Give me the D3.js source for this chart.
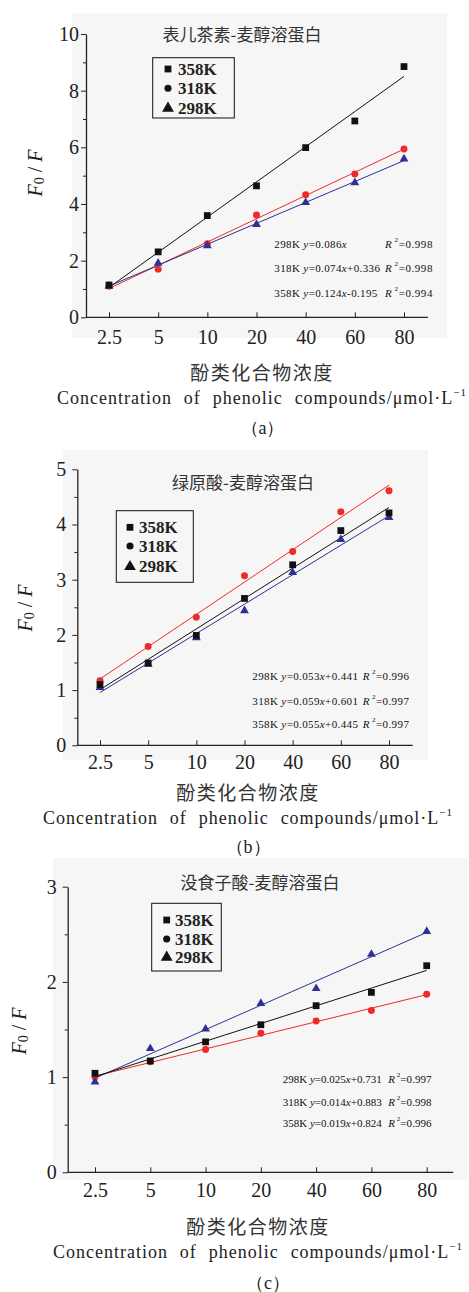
<!DOCTYPE html>
<html>
<head>
<meta charset="utf-8">
<script src="https://cdn.jsdelivr.net/npm/d3@7"></script>
<style>
  body { margin: 0; background: #fff; }
  svg { display: block; }
</style>
</head>
<body>
<script>
"use strict";

// ---- data ----
var categories = ["2.5", "5", "10", "20", "40", "60", "80"];
var legendNames = ["358K", "318K", "298K"];

// (a) epicatechin
var catechin358 = [1.14, 2.31, 3.59, 4.64, 5.99, 6.93, 8.85];
var catechin318 = [1.10, 1.70, 2.60, 3.61, 4.33, 5.06, 5.94];
var catechin298 = [1.10, 1.91, 2.53, 3.28, 4.05, 4.75, 5.59];
var catechinEqLeft = ["298K y=0.086x", "318K y=0.074x+0.336", "358K y=0.124x-0.195"];
var catechinEqR2 = ["0.998", "0.998", "0.994"];

// (b) chlorogenic acid
var chloro358 = [1.10, 1.49, 1.99, 2.66, 3.27, 3.89, 4.21];
var chloro318 = [1.17, 1.79, 2.32, 3.07, 3.51, 4.23, 4.61];
var chloro298 = [1.05, 1.47, 1.95, 2.44, 3.13, 3.73, 4.13];
var chloroEqLeft = ["298K y=0.053x+0.441", "318K y=0.059x+0.601", "358K y=0.055x+0.445"];
var chloroEqR2 = ["0.996", "0.997", "0.997"];

// (c) gallic acid
var gallic358 = [1.04, 1.17, 1.37, 1.55, 1.75, 1.89, 2.17];
var gallic318 = [1.00, 1.16, 1.29, 1.46, 1.59, 1.70, 1.87];
var gallic298 = [0.95, 1.30, 1.505, 1.775, 1.93, 2.29, 2.53];
var gallicEqLeft = ["298K y=0.025x+0.731", "318K y=0.014x+0.883", "358K y=0.019x+0.824"];
var gallicEqR2 = ["0.997", "0.998", "0.996"];

var yMaxes = [10, 5, 3];
var yMajorSteps = [2, 1, 1];

var colors = { k358: "#111111", k318: "#ee2a2a", k298: "#2e3192" };
var serif = "Liberation Serif";
var cjk = "Noto Sans CJK SC";

var svg = d3.select("body").append("svg")
    .attr("width", 469)
    .attr("height", 1292);

var panels = [
  { series: [catechin358, catechin318, catechin298], eqLeft: catechinEqLeft, eqR2: catechinEqR2,
    yMax: yMaxes[0], yStep: yMajorSteps[0], title: "表儿茶素-麦醇溶蛋白", caption: "（a）",
    bg: [72, 13, 375, 325], axisX: 86, axisEnd: 428, y0: 317.3, yTop: 34, xRange: [109, 404],
    yLabGap: 7, xLabY: 336.7, titleX: 242, titleY: 33,
    legend: { x: 152.7, y: 57.7, w: 81.6, h: 60.3, rows: [69, 88.3, 108.3], mx: 168, tx: 178 },
    eqX0: 274.3, eqX1: 433, eqY: [244.3, 268.3, 293.3], eqLeftW: 106, eqRightW: 48,
    yTitleX: 35, yTitleY: 173, cx: 262, cnY: 371.7, enY: 398, capX: 262.5, capY: 428 },
  { series: [chloro358, chloro318, chloro298], eqLeft: chloroEqLeft, eqR2: chloroEqR2,
    yMax: yMaxes[1], yStep: yMajorSteps[1], title: "绿原酸-麦醇溶蛋白", caption: "（b）",
    bg: [63, 450, 365, 310], axisX: 77.3, axisEnd: 412.7, y0: 745.3, yTop: 469.3, xRange: [100, 389],
    yLabGap: 11, xLabY: 761.7, titleX: 243, titleY: 481.7,
    legend: { x: 116.3, y: 510.7, w: 77, h: 71.6, rows: [527.3, 546, 566.7], mx: 130, tx: 139 },
    eqX0: 252.3, eqX1: 409.3, eqY: [675.7, 700.7, 724], eqLeftW: 106, eqRightW: 46.5,
    yTitleX: 25, yTitleY: 608, cx: 248, cnY: 791.7, enY: 818, capX: 248, capY: 847 },
  { series: [gallic358, gallic318, gallic298], eqLeft: gallicEqLeft, eqR2: gallicEqR2,
    yMax: yMaxes[2], yStep: yMajorSteps[2], title: "没食子酸-麦醇溶蛋白", caption: "（c）",
    bg: [53, 858, 414, 322], axisX: 67.7, axisEnd: 453.3, y0: 1172.3, yTop: 886.7, xRange: [95, 426.7],
    yLabGap: 11, xLabY: 1190, titleX: 260, titleY: 881.7,
    legend: { x: 151.7, y: 903.3, w: 69.6, h: 67.7, rows: [920, 939, 957.3], mx: 166.7, tx: 175 },
    eqX0: 282.7, eqX1: 431.7, eqY: [1079, 1101.7, 1122.7], eqLeftW: 99, eqRightW: 43.5,
    yTitleX: 19, yTitleY: 1031, cx: 258, cnY: 1225, enY: 1251.7, capX: 268, capY: 1283 }
];

// least-squares line in category-index space
function fit(vals) {
  var n = vals.length, mx = (n - 1) / 2, my = d3.mean(vals), sxy = 0, sxx = 0;
  vals.forEach(function(v, i) { sxy += (i - mx) * (v - my); sxx += (i - mx) * (i - mx); });
  var b = sxy / sxx;
  return [my - b * mx, my + b * mx];
}

// spread letters so the widest of a set of texts reaches the wanted width
function spreadTo(texts, target) {
  var widest = null, wmax = 0;
  texts.forEach(function(t) {
    var w = t.node().getComputedTextLength();
    if (w > wmax) { wmax = w; widest = t; }
  });
  var n = widest.text().length;
  var ls = (target - wmax) / n;
  texts.forEach(function(t) { t.attr("letter-spacing", ls); });
}

var markerShapes = [d3.symbolSquare, d3.symbolCircle, d3.symbolTriangle];
var markerSizes = [46, 38, 34];
var seriesColors = [colors.k358, colors.k318, colors.k298];

function drawPanel(p) {
  var g = svg.append("g");

  g.append("rect")
      .attr("x", p.bg[0]).attr("y", p.bg[1])
      .attr("width", p.bg[2]).attr("height", p.bg[3])
      .attr("fill", "#f6f6f6");

  var x = d3.scalePoint().domain(categories).range(p.xRange);
  var y = d3.scaleLinear().domain([0, p.yMax]).range([p.y0, p.yTop]);

  // y axis major + minor
  var major = d3.range(0, p.yMax + 0.001, p.yStep);
  var minor = d3.range(p.yStep / 2, p.yMax, p.yStep);

  var yAx = g.append("g")
      .attr("transform", "translate(" + p.axisX + ",0)")
      .call(d3.axisLeft(y).tickValues(major).tickSizeInner(5).tickSizeOuter(0)
            .tickPadding(p.yLabGap - 5).tickFormat(d3.format("d")));
  yAx.attr("font-family", serif);
  yAx.selectAll("text").style("font-family", serif).attr("font-size", 20).attr("fill", "#222");
  yAx.select(".domain").attr("stroke", "#222").attr("stroke-width", 1.3);
  yAx.selectAll(".tick line").attr("stroke", "#222");

  g.append("g")
      .attr("transform", "translate(" + p.axisX + ",0)")
      .call(d3.axisLeft(y).tickValues(minor).tickSize(3).tickFormat(""))
      .call(function(s) { s.select(".domain").remove(); s.selectAll("line").attr("stroke", "#222"); });

  // x axis
  var xAx = g.append("g")
      .attr("transform", "translate(0," + p.y0 + ")")
      .call(d3.axisBottom(x).tickSizeInner(-5).tickSizeOuter(0));
  xAx.attr("font-family", serif);
  xAx.select(".domain").remove();
  xAx.selectAll(".tick line").attr("stroke", "#222");
  xAx.selectAll("text")
      .attr("y", p.xLabY - p.y0).attr("dy", "0.35em")
      .style("font-family", serif).attr("font-size", 20).attr("fill", "#222");
  g.append("line")
      .attr("x1", p.axisX).attr("x2", p.axisEnd)
      .attr("y1", p.y0).attr("y2", p.y0)
      .attr("stroke", "#222").attr("stroke-width", 1.3);

  // fit lines
  var drawOrder = [1, 2, 0];
  drawOrder.forEach(function(si) {
    var ends = fit(p.series[si]);
    g.append("line")
        .attr("x1", x(categories[0])).attr("y1", y(ends[0]))
        .attr("x2", x(categories[categories.length - 1])).attr("y2", y(ends[1]))
        .attr("stroke", seriesColors[si]).attr("stroke-width", 1);
  });

  // markers
  drawOrder.forEach(function(si) {
    g.append("g").selectAll("path")
      .data(p.series[si])
      .join("path")
        .attr("transform", function(d, i) { return "translate(" + x(categories[i]) + "," + y(d) + ")"; })
        .attr("d", d3.symbol().type(markerShapes[si]).size(markerSizes[si]))
        .attr("fill", seriesColors[si]);
  });

  // title
  g.append("text")
      .attr("x", p.titleX).attr("y", p.titleY)
      .attr("text-anchor", "middle").attr("dominant-baseline", "central")
      .style("font-family", cjk).attr("font-size", 17).attr("fill", "#333")
      .text(p.title);

  // legend
  var L = p.legend;
  g.append("rect")
      .attr("x", L.x).attr("y", L.y).attr("width", L.w).attr("height", L.h)
      .attr("fill", "none").attr("stroke", "#111").attr("stroke-width", 1);
  legendNames.forEach(function(name, i) {
    g.append("path")
        .attr("transform", "translate(" + L.mx + "," + L.rows[i] + ")")
        .attr("d", d3.symbol().type(markerShapes[i]).size([46, 40, 60][i]))
        .attr("fill", "#111");
    g.append("text")
        .attr("x", L.tx).attr("y", L.rows[i])
        .attr("dominant-baseline", "central")
        .style("font-family", serif).attr("font-size", 17).attr("font-weight", "bold")
        .attr("fill", "#222")
        .text(name);
  });

  // equations
  var lefts = [], rights = [];
  p.eqLeft.forEach(function(s, i) {
    var t = g.append("text")
        .attr("x", p.eqX0).attr("y", p.eqY[i])
        .attr("dominant-baseline", "central")
        .style("font-family", serif).attr("font-size", 11).attr("fill", "#111");
    var parts = s.split(/([xy])/);
    parts.forEach(function(part) {
      if (!part) return;
      var ts = t.append("tspan").text(part);
      if (part === "x" || part === "y") ts.attr("font-style", "italic");
    });
    lefts.push(t);
    var r = g.append("text")
        .attr("x", p.eqX1).attr("y", p.eqY[i])
        .attr("text-anchor", "end").attr("dominant-baseline", "central")
        .style("font-family", serif).attr("font-size", 11).attr("fill", "#111");
    r.append("tspan").attr("font-style", "italic").text("R");
    r.append("tspan").attr("font-size", 7).attr("dy", -4).text(" 2");
    r.append("tspan").attr("dy", 4).text("=" + p.eqR2[i]);
    rights.push(r);
  });
  spreadTo(lefts, p.eqLeftW);
  spreadTo(rights, p.eqRightW);

  // y axis title F0 / F
  var yt = g.append("text")
      .attr("transform", "translate(" + p.yTitleX + "," + p.yTitleY + ") rotate(-90)")
      .attr("text-anchor", "middle").attr("dominant-baseline", "central")
      .style("font-family", serif).attr("font-size", 20).attr("fill", "#222");
  yt.append("tspan").attr("font-style", "italic").text("F");
  yt.append("tspan").attr("font-size", 14).attr("dy", 4).text("0");
  yt.append("tspan").attr("dy", -4).text(" / ");
  yt.append("tspan").attr("font-style", "italic").text("F");

  // x axis titles
  g.append("text")
      .attr("x", p.cx).attr("y", p.cnY)
      .attr("text-anchor", "middle").attr("dominant-baseline", "central")
      .style("font-family", cjk).attr("font-size", 19).attr("letter-spacing", 1.5)
      .attr("fill", "#333")
      .text("酚类化合物浓度");

  var en = g.append("text")
      .attr("x", p.cx).attr("y", p.enY)
      .attr("text-anchor", "middle").attr("dominant-baseline", "central")
      .style("font-family", serif).attr("font-size", 18).attr("letter-spacing", 1)
      .attr("fill", "#222");
  en.append("tspan").text("Concentration of phenolic compounds/\u03bcmol\u00b7L");
  en.append("tspan").attr("font-size", 11).attr("dy", -6).text("\u22121");
  var w = en.node().getComputedTextLength();
  en.attr("word-spacing", Math.max(0, (410 - w) / 3));

  g.append("text")
      .attr("x", p.capX).attr("y", p.capY)
      .attr("text-anchor", "middle").attr("dominant-baseline", "central")
      .style("font-family", serif).attr("font-size", 18).attr("fill", "#222")
      .text(p.caption);
}

panels.forEach(drawPanel);
</script>
</body>
</html>
